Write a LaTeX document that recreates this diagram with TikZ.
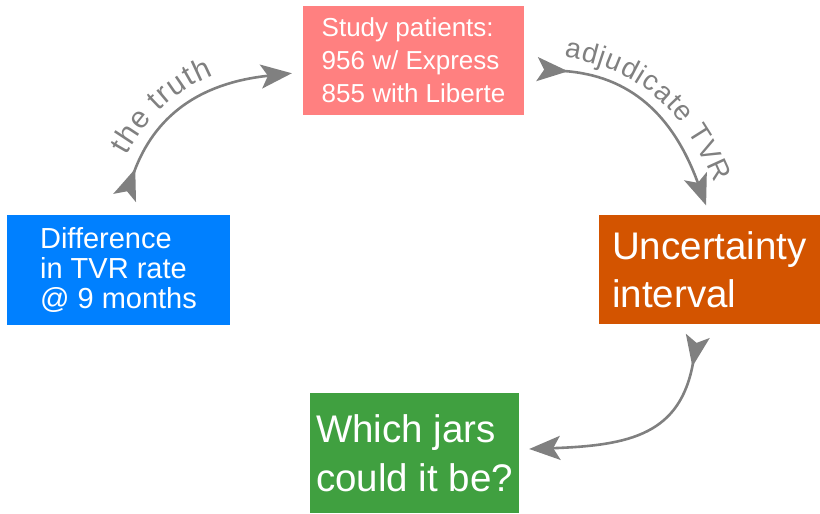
\documentclass[tikz,border=0pt]{standalone}
\usepackage{fontspec}
\setmainfont{Liberation Sans}
\usetikzlibrary{arrows.meta,decorations.text}
\definecolor{pinkbox}{HTML}{FF8080}
\definecolor{bluebox}{HTML}{0080FF}
\definecolor{orangebox}{HTML}{D35400}
\definecolor{greenbox}{HTML}{40A040}
\definecolor{arrowgray}{HTML}{808080}
\begin{document}
\begin{tikzpicture}[x=1pt,y=1pt,
  box/.style={rectangle, inner sep=0pt, align=left, text=white},
  cyc/.style={draw=arrowgray, line width=2.6pt,
    {Stealth[reversed,length=31pt,width=24pt,inset=7pt]}-{Stealth[length=31pt,width=24pt,inset=7pt]}},
  arclabel/.style n args={3}{postaction={decorate,decoration={text along path,
    text={|\color{arrowgray}\fontsize{#3}{#3}\selectfont|#1},
    raise=#2, text align={left indent=\labelindent}}}}
]
\useasboundingbox (0,0) rectangle (820,514);

% the four stages of the cycle
\node[box, fill=pinkbox, minimum width=221pt, minimum height=109pt,
      font=\fontsize{26}{33}\selectfont] (study) at (413.5,453.5)
      {Study patients:\\956 w/ Express\\855 with Liberte};
\node[box, fill=bluebox, minimum width=223pt, minimum height=110pt,
      font=\fontsize{29}{30}\selectfont] (truth) at (118.5,244)
      {Difference\\in TVR rate\\@ 9 months};
\node[box, fill=orangebox, minimum width=221pt, minimum height=109pt,
      font=\fontsize{38.5}{48}\selectfont] (interval) at (709.5,244.5)
      {Uncertainty\\interval};
\node[box, fill=greenbox, minimum width=209pt, minimum height=120pt,
      font=\fontsize{38.5}{49}\selectfont] (jars) at (414.5,61)
      {Which jars\\could it be?};

% curved connectors between the stages
\def\labelindent{56pt}
\draw[cyc, shorten <=18pt, shorten >=11pt, arclabel={the truth}{17pt}{30}]
  (truth.north) to[out=70, in=186, looseness=1.15] (study);
\def\labelindent{37pt}
\draw[cyc, shorten <=13pt, shorten >=10pt, arclabel={adjudicate TVR}{16pt}{28}]
  (study) to[out=-4, in=110, looseness=1.15] (interval.north);
\draw[cyc, shorten <=12pt, shorten >=10pt]
  (interval) to[out=260, in=2, looseness=1.3] (jars);
\end{tikzpicture}
\end{document}
